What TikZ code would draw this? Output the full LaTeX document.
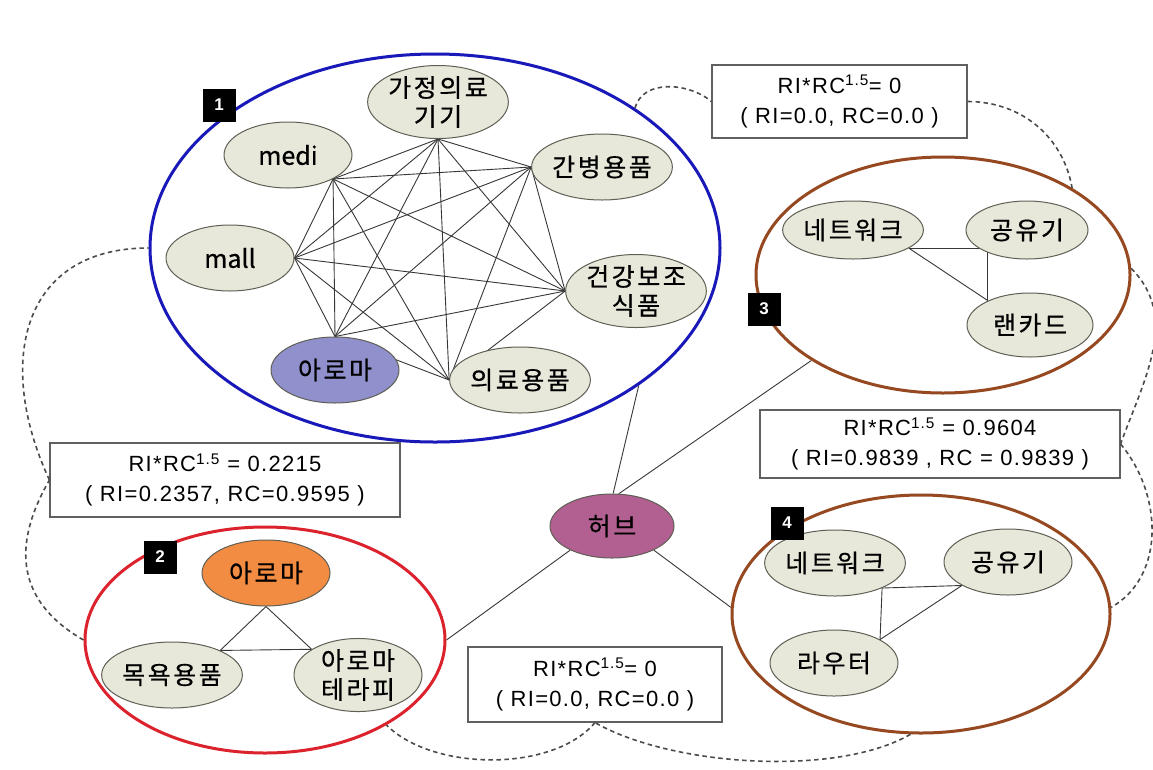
\documentclass[tikz,border=0pt]{standalone}
\usepackage{fontspec}
\usetikzlibrary{shapes.geometric}
\newfontfamily\kr[LetterSpace=10,FakeBold=0.6]{Noto Sans CJK KR}
\newfontfamily\krl[FakeBold=0.6]{Noto Sans CJK KR}
\newfontfamily\lat[LetterSpace=6]{Liberation Sans}
\definecolor{nodefill}{RGB}{232,232,218}
\definecolor{nodeline}{RGB}{95,95,85}
\definecolor{hubfill}{RGB}{178,96,146}
\definecolor{arofill}{RGB}{144,144,204}
\definecolor{orgfill}{RGB}{242,140,66}
\definecolor{cblue}{RGB}{25,25,185}
\definecolor{cred}{RGB}{220,35,45}
\definecolor{cbrown}{RGB}{150,72,32}
\definecolor{dashc}{RGB}{75,75,75}
\definecolor{edgec}{RGB}{55,55,55}
\pgfdeclarelayer{back}
\pgfdeclarelayer{bg}
\pgfsetlayers{back,bg,main}
\begin{document}
\begin{tikzpicture}[x=1pt,y=-1pt,
  item/.style={ellipse,draw=nodeline,line width=1pt,fill=nodefill,minimum width=128pt,minimum height=66pt,inner sep=0pt,align=center,font=\kr\fontsize{25}{29}\selectfont},
  smallitem/.style={item,minimum width=122pt,minimum height=58pt},
  grp/.style={ellipse,line width=3pt,inner sep=0pt},
  numbox/.style={fill=black,text=white,minimum size=33pt,inner sep=0pt,font=\lat\bfseries\fontsize{17}{17}\selectfont},
  rbox/.style={draw=gray!75!black,line width=1.1pt,fill=white,align=center,inner sep=0pt,font=\lat\fontsize{22}{30}\selectfont},
  edge/.style={draw=edgec,line width=0.9pt},
  dsh/.style={draw=dashc,line width=1.6pt,dash pattern=on 4.5pt off 3.5pt},
]
\useasboundingbox (0,0) rectangle (1153,769);
\begin{pgfonlayer}{back}
\fill[white] (0,0) rectangle (1153,769);
\end{pgfonlayer}

% group ellipses
\node[grp,draw=cblue,minimum width=570pt,minimum height=388pt] (c1) at (435,248) {};
\node[grp,draw=cred,minimum width=360pt,minimum height=226pt] (c2) at (265,640) {};
\node[grp,draw=cbrown,minimum width=374pt,minimum height=236pt] (c3) at (943,275) {};
\node[grp,draw=cbrown,minimum width=378pt,minimum height=238pt] (c4) at (921,614) {};

% cluster 1
\node[item] (ga) at (438,102) {가정의료\\기기};
\node[item,font=\krl\fontsize{25}{29}\selectfont] (medi) at (288,155) {medi};
\node[item] (gan) at (602,167) {간병용품};
\node[item,font=\krl\fontsize{25}{29}\selectfont] (mall) at (230,258) {mall};
\node[item] (gun) at (636,291) {건강보조\\식품};
\node[item,fill=arofill] (aro) at (335,370) {아로마};
\node[item] (ui) at (520,380) {의료용품};
\coordinate (pga) at (ga.south);
\coordinate (pmedi) at (medi.-28);
\coordinate (pgan) at (gan.west);
\coordinate (pmall) at (mall.east);
\coordinate (pgun) at (gun.west);
\coordinate (paro) at (aro.north);
\coordinate (pui) at (ui.west);
\begin{pgfonlayer}{bg}
\foreach \a/\b in {pga/pmedi,pga/pgan,pga/pmall,pga/pgun,pga/paro,pga/pui,pmedi/pgan,pmedi/pmall,pmedi/pgun,pmedi/paro,pmedi/pui,pgan/pmall,pgan/pgun,pgan/paro,pgan/pui,pmall/pgun,pmall/paro,pmall/pui,pgun/paro,pgun/pui,paro/pui}
  \draw[edge] (\a) -- (\b);
\end{pgfonlayer}

% cluster 2
\node[item,fill=orgfill] (aroO) at (266,573) {아로마};
\node[item] (mok) at (172,675) {목욕용품};
\node[item] (ter) at (358,675) {아로마\\테라피};
\begin{pgfonlayer}{bg}
\draw[edge] (aroO.south) -- (mok.27);
\draw[edge] (aroO.south) -- (ter.151);
\draw[edge] (mok.27) -- (ter.151);
\end{pgfonlayer}

% cluster 3
\node[smallitem] (net3) at (853,230) {네트워크};
\node[smallitem] (gong3) at (1027,230) {공유기};
\node[smallitem,minimum width=126pt,minimum height=64pt] (lan3) at (1030,325) {랜카드};
\coordinate (A3) at (net3.-18);
\coordinate (C3) at (lan3.150);
\coordinate (B3) at (A3 -| C3);
\begin{pgfonlayer}{bg}
\draw[edge] (A3) -- (B3);
\draw[edge] (B3) -- (C3);
\draw[edge] (A3) -- (C3);
\end{pgfonlayer}

% cluster 4
\node[item] (net4) at (835,563) {네트워크};
\node[item] (gong4) at (1008,562) {공유기};
\node[item] (rout4) at (834,663) {라우터};
\coordinate (A4) at (net4.-28);
\coordinate (B4) at (gong4.207);
\coordinate (C4) at (rout4.27);
\begin{pgfonlayer}{bg}
\draw[edge] (A4) -- (B4);
\draw[edge] (A4) -- (C4);
\draw[edge] (B4) -- (C4);
\end{pgfonlayer}

% hub
\node[item,fill=hubfill,minimum width=124pt,minimum height=64pt] (hub) at (612,526) {허브};
\begin{pgfonlayer}{bg}
\draw[edge] (hub.88) -- (c1.-34);
\draw[edge] (hub.78) -- (c3.-147);
\draw[edge] (hub.210) -- (c2.0);
\draw[edge] (hub.-30) -- (c4.178);
\end{pgfonlayer}

% number boxes
\node[numbox] (n1) at (219,105) {1};
\node[numbox] (n2) at (160,557) {2};
\node[numbox] (n3) at (764,309) {3};
\node[numbox] (n4) at (787,523) {4};

% value boxes
\node[rbox,minimum width=255pt,minimum height=73pt] (bT) at (839.5,101.5) {RI*RC\textsuperscript{1.5}= 0\\( RI=0.0, RC=0.0 )};
\node[rbox,minimum width=360pt,minimum height=68pt] (bR) at (940,444) {RI*RC\textsuperscript{1.5} = 0.9604\\( RI=0.9839 , RC = 0.9839 )};
\node[rbox,minimum width=350pt,minimum height=74pt] (b2) at (225,480) {RI*RC\textsuperscript{1.5} = 0.2215\\( RI=0.2357, RC=0.9595 )};
\node[rbox,minimum width=254pt,minimum height=75pt] (bB) at (595,684.5) {RI*RC\textsuperscript{1.5}= 0\\( RI=0.0, RC=0.0 )};

% dashed cloud connectors
\draw[dsh] (c1.35) to[out=75,in=140] (bT.west);
\draw[dsh] (bT.east) to[out=0,in=100] (c3.34);
\draw[dsh] (c3.2) to[out=-45,in=70] (bR.east);
\draw[dsh] (bR.east) to[out=-50,in=30] (c4.2);
\draw[dsh] (c4.-95) to[out=-150,in=-30,looseness=0.7] (bB.south);
\draw[dsh] (bB.south) to[out=-130,in=-45,looseness=0.8] (c2.-35);
\draw[dsh] (c2.west) to[out=150,in=240,looseness=1.2] (b2.west);
\draw[dsh] (b2.west) to[out=115,in=180,looseness=1.3] (c1.west);
\end{tikzpicture}
\end{document}
